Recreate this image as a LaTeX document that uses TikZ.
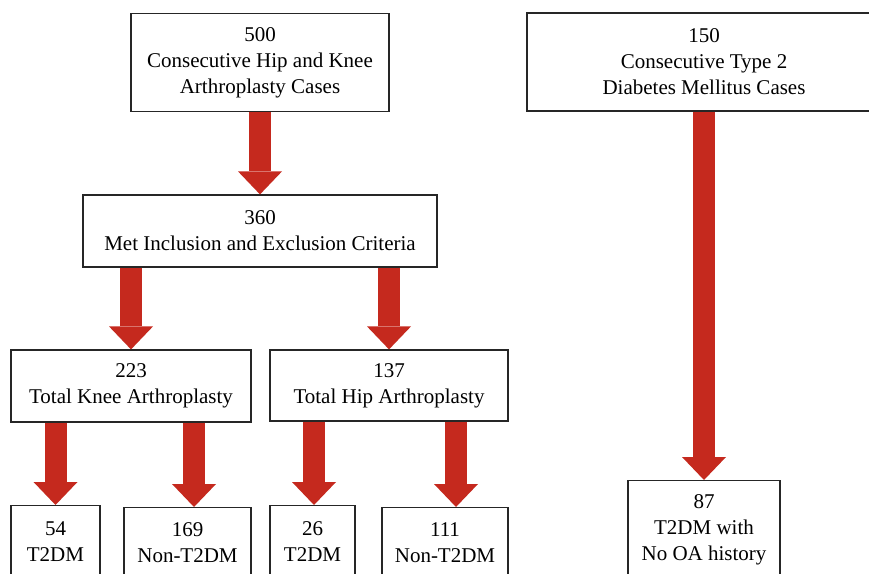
\documentclass[tikz,border=0pt]{standalone}
\usepackage{fontspec}
\setmainfont{Liberation Serif}
\usetikzlibrary{arrows.meta}
\definecolor{arrowred}{RGB}{197,41,30}

\begin{document}
\begin{tikzpicture}[x=1pt,y=-1pt,
    box/.style={draw=black!85, line width=1.2pt, fill=white, inner sep=0pt, align=center,
        font=\fontsize{21}{26}\selectfont},
    bigarrow/.style={draw=arrowred, line width=22pt,
        -{Triangle[width=44pt,length=23pt,line width=0pt]}}]
    \useasboundingbox (0,0) rectangle (869,573);
    \clip (0,0) rectangle (869,573);
    \node[box, minimum width=258pt, minimum height=98pt] (hk) at (260,62.5) {500\\Consecutive Hip and Knee\\Arthroplasty Cases};
    \node[box, minimum width=354pt, minimum height=98pt] (dm) at (704,62) {150\\Consecutive Type 2\\Diabetes Mellitus Cases};
    \node[box, minimum width=354pt, minimum height=72pt] (met) at (260,231) {360\\Met Inclusion and Exclusion Criteria};
    \node[box, minimum width=240pt, minimum height=72pt] (tka) at (131,386) {223\\Total Knee Arthroplasty};
    \node[box, minimum width=238pt, minimum height=71pt] (tha) at (389,385.5) {137\\Total Hip Arthroplasty};
    \node[box, anchor=north, minimum width=89pt, minimum height=72pt] (tkadm) at (55.5,505) {54\\T2DM};
    \node[box, anchor=north, minimum width=127pt, minimum height=70pt] (tkanon) at (187.5,507) {169\\Non-T2DM};
    \node[box, anchor=north, minimum width=85pt, minimum height=72pt] (thadm) at (312.5,505) {26\\T2DM};
    \node[box, anchor=north, minimum width=126pt, minimum height=70pt] (thanon) at (445,507) {111\\Non-T2DM};
    \node[box, anchor=north, minimum width=152pt, minimum height=98pt] (dmoa) at (704,480) {87\\T2DM with\\No OA history};
    % arrow ends that sit off the box centres
    \coordinate (tkanonin) at ([xshift=6.5pt]tkanon.north);
    \coordinate (thadmin) at ([xshift=1.5pt]thadm.north);
    \coordinate (thanonin) at ([xshift=11pt]thanon.north);
    \draw[bigarrow] (hk.south) -- (met.north);
    \draw[bigarrow] (met.south -| tka.north) -- (tka.north);
    \draw[bigarrow] (met.south -| tha.north) -- (tha.north);
    \draw[bigarrow] (tka.south -| tkadm.north) -- (tkadm.north);
    \draw[bigarrow] (tka.south -| tkanonin) -- (tkanonin);
    \draw[bigarrow] (tha.south -| thadmin) -- (thadmin);
    \draw[bigarrow] (tha.south -| thanonin) -- (thanonin);
    \draw[bigarrow] (dm.south) -- (dmoa.north);
\end{tikzpicture}
\end{document}
